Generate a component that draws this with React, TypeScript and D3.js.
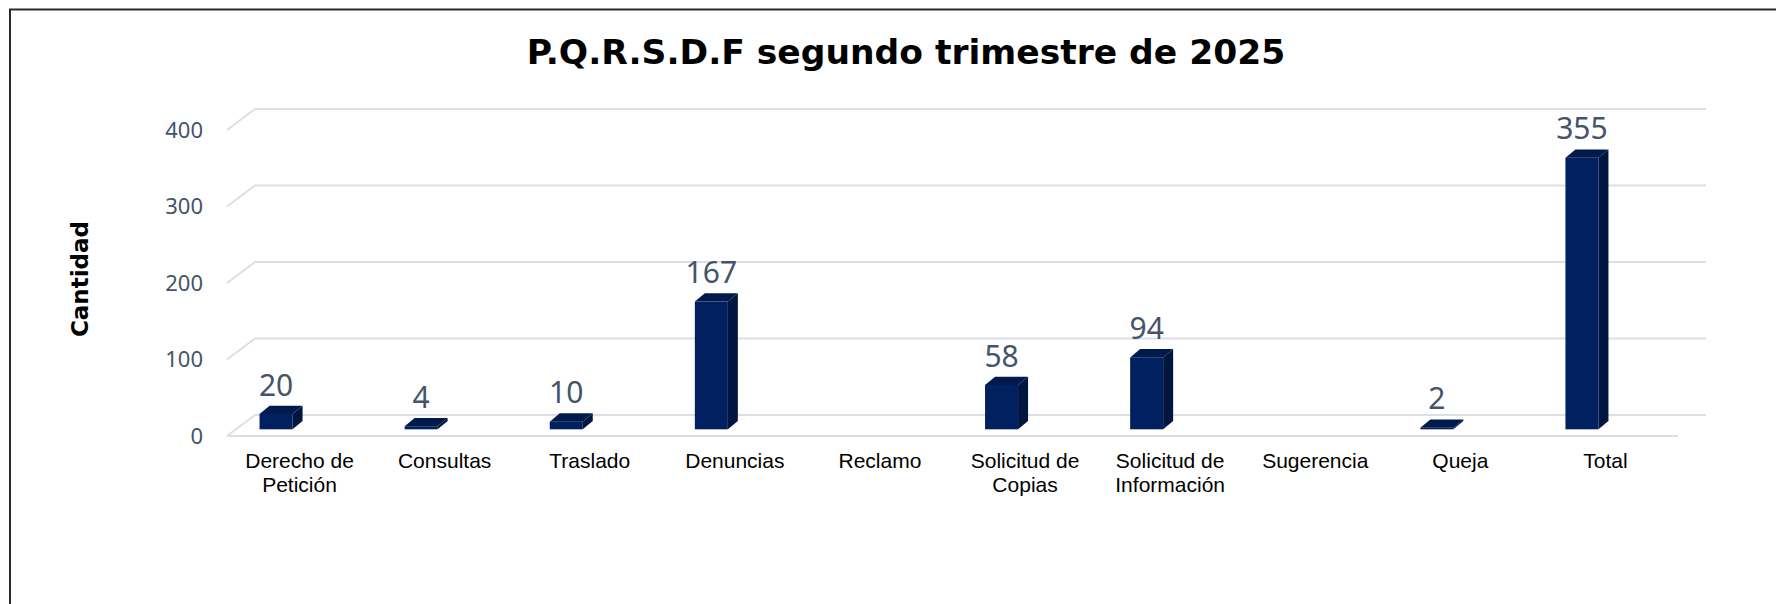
import React, { useEffect, useRef } from "react";
import * as d3 from "d3";

const categories: string[][] = [
  ["Derecho de", "Petición"],
  ["Consultas"],
  ["Traslado"],
  ["Denuncias"],
  ["Reclamo"],
  ["Solicitud de", "Copias"],
  ["Solicitud de", "Información"],
  ["Sugerencia"],
  ["Queja"],
  ["Total"],
];
const values: (number | null)[] = [20, 4, 10, 167, null, 58, 94, null, 2, 355];
const yTicks = [0, 100, 200, 300, 400];

const W = 1776;
const H = 604;

export default function App() {
  const ref = useRef<SVGSVGElement>(null);

  useEffect(() => {
    const svg = d3.select(ref.current);
    svg.selectAll("*").remove();

    const colors = {
      front: "#012060",
      side: "#00163f",
      top: "#011a4c",
      grid: "#dcdfe7",
      label: "#44546a",
      frame: "#262b33",
    };

    // floor / wall geometry (3d offset of the plot)
    const x0 = 227, x1 = 1678;
    const depthX = 28, depthY = -21;
    const x = d3.scaleBand<number>().domain(d3.range(categories.length)).range([x0, x1]);
    const yBack = d3.scaleLinear().domain([0, 400]).range([415, 109]);

    // frame
    svg.append("path")
      .attr("d", `M10,${H} V9.5 H${W}`)
      .attr("fill", "none")
      .attr("stroke", colors.frame)
      .attr("stroke-width", 2);

    // title
    svg.append("text")
      .attr("x", 906)
      .attr("y", 64)
      .attr("text-anchor", "middle")
      .attr("font-family", "'DejaVu Sans', Verdana, sans-serif")
      .attr("font-weight", "bold")
      .attr("font-size", 34.5)
      .text("P.Q.R.S.D.F segundo trimestre de 2025");

    // y axis title
    svg.append("text")
      .attr("transform", "translate(88,279) rotate(-90)")
      .attr("text-anchor", "middle")
      .attr("font-family", "'DejaVu Sans', Verdana, sans-serif")
      .attr("font-weight", "bold")
      .attr("font-size", 23)
      .text("Cantidad");

    // gridlines
    const grid = svg.append("g");
    yTicks.forEach((t) => {
      const yb = yBack(t);
      grid.append("path")
        .attr("d", `M${x0},${yb - depthY} L${x0 + depthX},${yb} H${x1 + depthX}`)
        .attr("fill", "none")
        .attr("stroke", colors.grid)
        .attr("stroke-width", 2);
    });
    // floor front edge
    grid.append("line")
      .attr("x1", x0).attr("x2", x1)
      .attr("y1", yBack(0) - depthY).attr("y2", yBack(0) - depthY)
      .attr("stroke", colors.grid)
      .attr("stroke-width", 2);

    // tick labels
    svg.append("g")
      .selectAll("text")
      .data(yTicks)
      .join("text")
      .attr("x", 203)
      .attr("y", (d) => yBack(d) - depthY)
      .attr("dy", "0.36em")
      .attr("text-anchor", "end")
      .attr("font-family", "'Noto Sans', 'Open Sans', sans-serif")
      .attr("font-size", 22)
      .attr("fill", colors.label)
      .text((d) => d);

    // bars
    const barW = 33, bdx = 10, bdy = -8.3;
    const baseY = yBack(0) + 14.3;
    const h = (v: number) => yBack(0) - yBack(v);
    const bars = svg.append("g");
    values.forEach((v, i) => {
      if (v === null) return;
      const left = x(i)! + x.bandwidth() / 2 - 40;
      const top = baseY - h(v);
      bars.append("rect")
        .attr("x", left).attr("y", top)
        .attr("width", barW).attr("height", baseY - top)
        .attr("fill", colors.front);
      bars.append("path")
        .attr("d", `M${left + barW},${top} L${left + barW + bdx},${top + bdy} V${baseY + bdy} L${left + barW},${baseY} Z`)
        .attr("fill", colors.side);
      bars.append("path")
        .attr("d", `M${left},${top} L${left + bdx},${top + bdy} H${left + barW + bdx} L${left + barW},${top} Z`)
        .attr("fill", colors.top);
      bars.append("text")
        .attr("x", left + barW / 2)
        .attr("y", top + bdy - 10)
        .attr("text-anchor", "middle")
        .attr("font-family", "'Noto Sans', 'Open Sans', sans-serif")
        .attr("font-size", 30)
        .attr("fill", colors.label)
        .text(v);
    });

    // category labels
    const cl = svg.append("g");
    categories.forEach((lines, i) => {
      const cx = x(i)! + x.bandwidth() / 2;
      const t = cl.append("text")
        .attr("x", cx)
        .attr("y", 468)
        .attr("text-anchor", "middle")
        .attr("font-family", "'Liberation Sans', Arial, sans-serif")
        .attr("font-size", 21)
        .attr("fill", "#000");
      lines.forEach((ln, j) => {
        t.append("tspan")
          .attr("x", cx)
          .attr("dy", j === 0 ? 0 : 23.8)
          .text(ln);
      });
    });
  }, []);

  return (
    <svg
      ref={ref}
      width={W}
      height={H}
      style={{ position: "fixed", left: 0, top: 0, background: "#fff" }}
    />
  );
}
